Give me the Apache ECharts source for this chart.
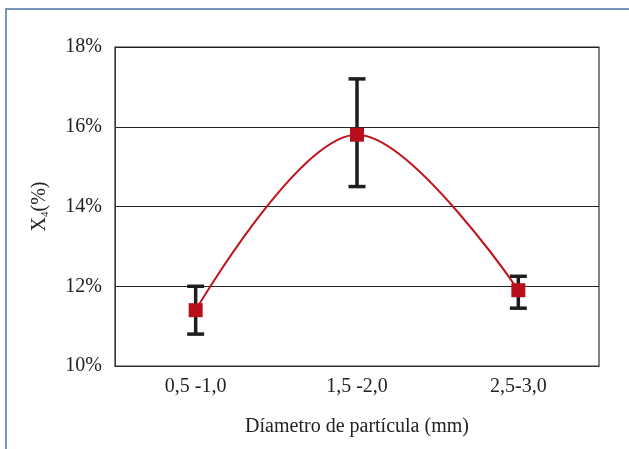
<!DOCTYPE html>
<html>
<head>
<meta charset="utf-8">
<script src="https://cdn.jsdelivr.net/npm/echarts@6/dist/echarts.min.js"></script>
<style>
  html, body { margin: 0; padding: 0; background: #fff; }
  #container { width: 629px; height: 449px; }
</style>
</head>
<body>
<div id="container"></div>
<script>
var categories = ['0,5 -1,0', '1,5 -2,0', '2,5-3,0'];
var meanValues = [11.4, 15.8, 11.9];
var errLow = [10.8, 14.5, 11.45];
var errHigh = [12.0, 17.2, 12.25];
var yTicks = [10, 12, 14, 16, 18];

var dom = document.getElementById('container');
var myChart = echarts.init(dom, null, { renderer: 'canvas' });

var errData = categories.map(function (c, i) {
  return [i, errLow[i], errHigh[i]];
});

var serif = '"Liberation Serif", "DejaVu Serif", serif';

var option = {
  animation: false,
  backgroundColor: '#fff',
  graphic: [{
    type: 'rect',
    shape: { x: 6, y: 9, width: 700, height: 500 },
    style: { fill: 'none', stroke: '#4a72a8', lineWidth: 1.5 },
    silent: true
  }],
  grid: {
    left: 115, right: 30, top: 47, bottom: 83,
    show: true, borderColor: '#333', borderWidth: 1.2
  },
  xAxis: {
    type: 'category',
    data: categories,
    boundaryGap: true,
    axisLine: { lineStyle: { color: '#333' } },
    axisTick: { show: false },
    axisLabel: { color: '#222', fontFamily: serif, fontSize: 20, margin: 11 },
    name: 'Díametro de partícula (mm)',
    nameLocation: 'middle',
    nameGap: 51,
    nameTextStyle: { color: '#222', fontFamily: serif, fontSize: 20 }
  },
  yAxis: {
    type: 'value',
    min: yTicks[0],
    max: yTicks[yTicks.length - 1],
    interval: 2,
    axisLine: { show: true, lineStyle: { color: '#333' } },
    axisTick: { show: false },
    splitLine: { lineStyle: { color: '#222', width: 1 } },
    axisLabel: {
      color: '#222', fontFamily: serif, fontSize: 20, margin: 13,
      formatter: function (v) { return v + '%'; }
    },
    name: 'Χ{sub|4}(%)',
    nameLocation: 'middle',
    nameRotate: 90,
    nameGap: 64,
    nameTextStyle: {
      color: '#222', fontFamily: serif, fontSize: 20, lineHeight: 22,
      rich: {
        sub: { fontFamily: serif, fontSize: 11, verticalAlign: 'bottom', lineHeight: 22, padding: [7, 0, 0, 0] }
      }
    }
  },
  series: [
    {
      type: 'custom',
      data: errData,
      z: 3,
      renderItem: function (params, api) {
        var x = api.value(0);
        var lo = api.coord([x, api.value(1)]);
        var hi = api.coord([x, api.value(2)]);
        var hw = 8.5;
        var st = { stroke: '#1e1e1e', lineWidth: 3.5 };
        return {
          type: 'group',
          children: [
            { type: 'line', shape: { x1: lo[0], y1: lo[1], x2: hi[0], y2: hi[1] }, style: st },
            { type: 'line', shape: { x1: lo[0] - hw, y1: lo[1], x2: lo[0] + hw, y2: lo[1] }, style: st },
            { type: 'line', shape: { x1: hi[0] - hw, y1: hi[1], x2: hi[0] + hw, y2: hi[1] }, style: st }
          ]
        };
      }
    },
    {
      type: 'line',
      data: meanValues,
      smooth: 0.35,
      z: 4,
      symbol: 'rect',
      symbolSize: 14,
      lineStyle: { color: '#c0141c', width: 2 },
      itemStyle: { color: '#b8101a' }
    }
  ]
};

myChart.setOption(option);
window.addEventListener('resize', myChart.resize);
</script>
</body>
</html>
